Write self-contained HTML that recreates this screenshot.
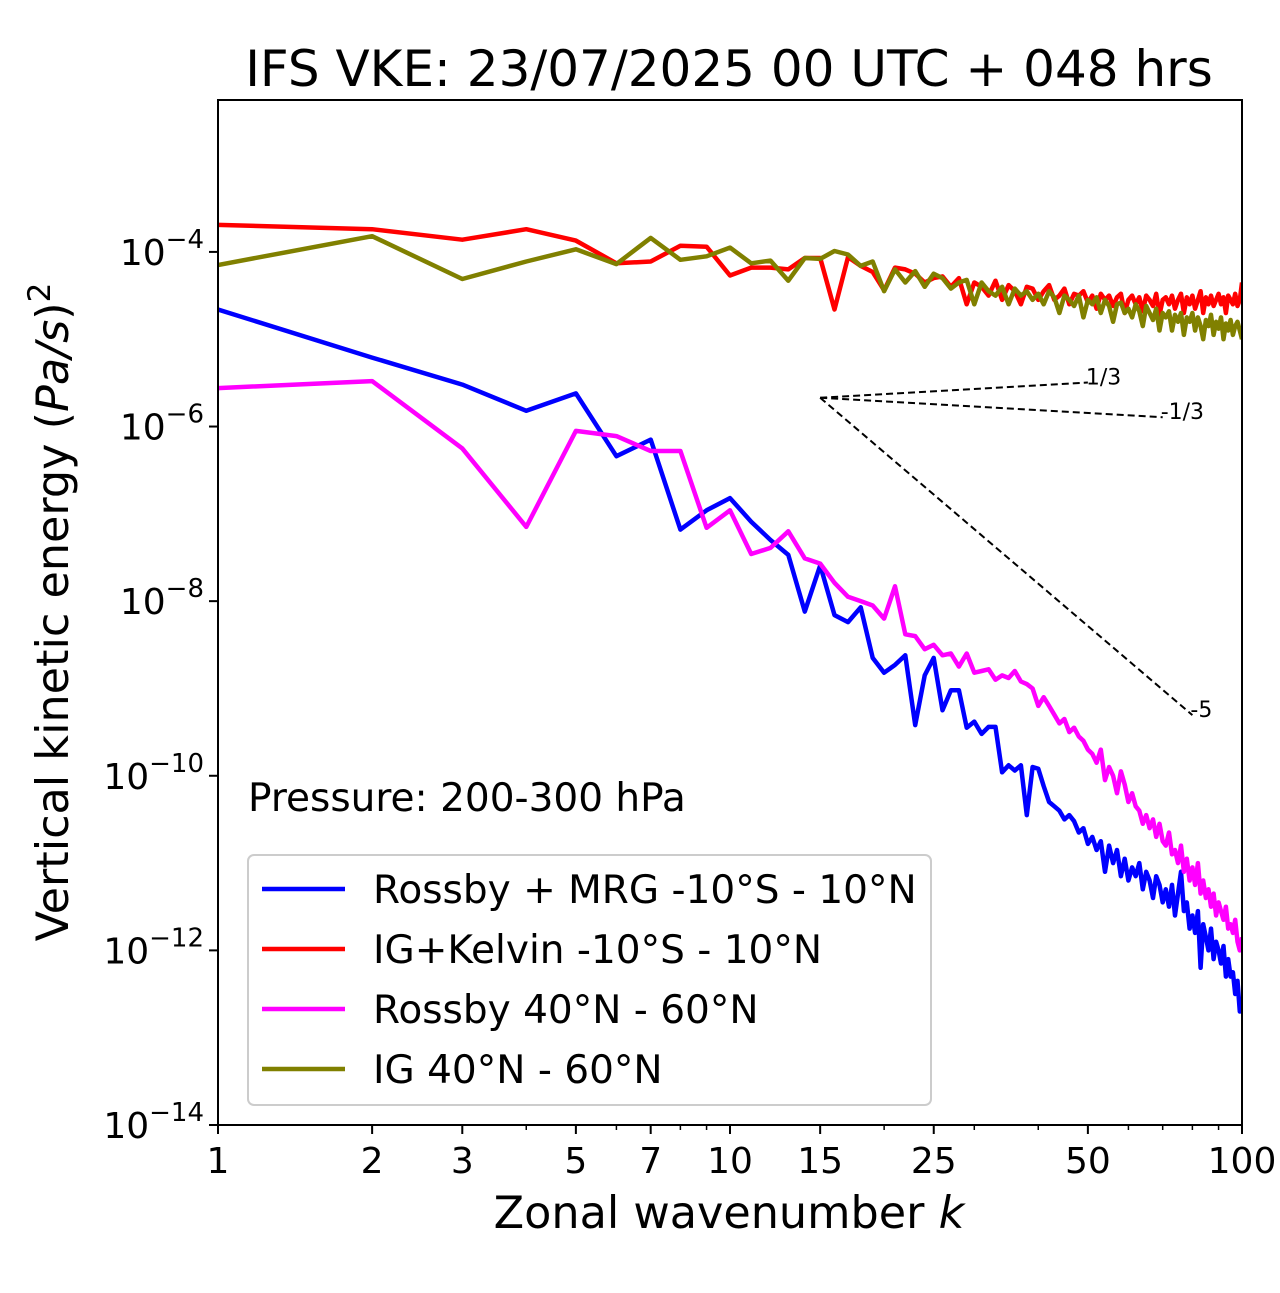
<!DOCTYPE html>
<html><head><meta charset="utf-8"><style>
html,body{margin:0;padding:0;background:#fff;}
svg text{font-family:"DejaVu Sans","Liberation Sans",sans-serif;fill:#000;}
</style></head><body>
<svg id="chart" width="1280" height="1288" xmlns="http://www.w3.org/2000/svg">
<rect width="1280" height="1288" fill="#fff"/>
<text x="729" y="86" font-size="50" text-anchor="middle">IFS VKE: 23/07/2025 00 UTC + 048 hrs</text>
<g id="plot"></g>
<g id="axes"></g>
<text x="248" y="811" font-size="39">Pressure: 200-300 hPa</text>
<text x="729" y="1228" font-size="44.5" text-anchor="middle">Zonal wavenumber <tspan font-style="italic">k</tspan></text>
<text transform="translate(68,612) rotate(-90)" font-size="44.5" text-anchor="middle">Vertical kinetic energy (<tspan font-style="italic">Pa/s</tspan>)<tspan font-size="31" dy="-18">2</tspan></text>
<g id="legend"></g>
</svg>
<script>
// log10 of values, k = 1..100
const blueExp = [-4.66,-5.21,-5.52,-5.82,-5.62,-6.34,-6.15,-7.18,-6.96,-6.82,-7.09,-7.30,-7.47,-8.12,-7.59,-8.16,-8.24,-8.07,-8.65,-8.82,-8.73,-8.62,-9.42,-8.85,-8.65,-9.25,-9.02,-9.02,-9.45,-9.38,
-9.52,-9.44,-9.44,-9.96,-9.88,-9.94,-9.88,-10.45,-9.9,-9.92,-10.12,-10.3,-10.35,-10.4,-10.5,-10.45,-10.52,-10.65,-10.6,-10.78,
-10.7,-10.85,-10.75,-11.1,-10.8,-11.0,-10.85,-11.15,-10.95,-11.2,-11.05,-11.15,-11.0,-11.3,-11.1,-11.2,-11.4,-11.15,-11.25,-11.45,
-11.3,-11.5,-11.25,-11.6,-11.35,-11.1,-11.55,-11.45,-11.75,-11.6,-11.8,-11.55,-12.2,-11.7,-11.85,-12.0,-11.75,-12.1,-11.9,-12.0,
-12.15,-11.95,-12.3,-12.1,-12.3,-12.25,-12.5,-12.35,-12.7,-12.55];
const redExp = [-3.69,-3.74,-3.86,-3.74,-3.87,-4.13,-4.11,-3.93,-3.94,-4.27,-4.18,-4.18,-4.2,-4.07,-4.07,-4.66,-4.06,-4.16,-4.23,-4.44,-4.18,-4.2,-4.25,-4.35,-4.3,-4.28,-4.4,-4.3,-4.6,-4.35,
-4.4,-4.5,-4.33,-4.55,-4.38,-4.45,-4.6,-4.4,-4.42,-4.55,-4.45,-4.38,-4.55,-4.5,-4.42,-4.6,-4.48,-4.5,-4.45,-4.58,
-4.5,-4.65,-4.48,-4.55,-4.5,-4.62,-4.52,-4.48,-4.7,-4.55,-4.5,-4.6,-4.52,-4.68,-4.5,-4.55,-4.62,-4.48,-4.72,-4.55,
-4.52,-4.6,-4.5,-4.65,-4.55,-4.48,-4.7,-4.52,-4.6,-4.5,-4.65,-4.55,-4.45,-4.7,-4.52,-4.6,-4.5,-4.62,-4.55,-4.48,
-4.6,-4.52,-4.7,-4.5,-4.55,-4.6,-4.48,-4.62,-4.55,-4.35];
const magentaExp = [-5.56,-5.48,-6.25,-7.15,-6.05,-6.11,-6.28,-6.28,-7.16,-6.96,-7.46,-7.39,-7.2,-7.51,-7.57,-7.79,-7.95,-8.0,-8.05,-8.2,-7.83,-8.38,-8.4,-8.55,-8.5,-8.62,-8.6,-8.75,-8.6,-8.82,
-8.8,-8.78,-8.9,-8.85,-8.88,-8.8,-8.92,-8.95,-9.0,-9.2,-9.1,-9.2,-9.3,-9.4,-9.35,-9.5,-9.45,-9.55,-9.6,-9.7,
-9.75,-9.85,-9.7,-10.05,-9.9,-10.0,-10.2,-9.95,-10.1,-10.3,-10.2,-10.35,-10.4,-10.55,-10.45,-10.6,-10.5,-10.7,-10.55,-10.75,
-10.8,-10.65,-10.9,-10.85,-11.0,-10.8,-11.1,-10.95,-11.2,-11.05,-11.25,-11.0,-11.35,-11.2,-11.4,-11.3,-11.5,-11.35,-11.6,-11.45,
-11.55,-11.65,-11.5,-11.75,-11.7,-11.8,-11.65,-11.9,-12.0,-11.85];
const oliveExp = [-4.15,-3.82,-4.31,-4.11,-3.97,-4.14,-3.84,-4.09,-4.05,-3.95,-4.13,-4.1,-4.33,-4.07,-4.08,-3.99,-4.03,-4.16,-4.11,-4.45,-4.2,-4.35,-4.22,-4.4,-4.25,-4.3,-4.42,-4.35,-4.32,-4.6,
-4.35,-4.45,-4.5,-4.4,-4.6,-4.42,-4.5,-4.45,-4.55,-4.48,-4.6,-4.45,-4.52,-4.7,-4.5,-4.55,-4.62,-4.5,-4.75,-4.55,
-4.6,-4.52,-4.7,-4.55,-4.62,-4.8,-4.6,-4.58,-4.7,-4.65,-4.75,-4.6,-4.68,-4.85,-4.62,-4.7,-4.78,-4.65,-4.9,-4.7,
-4.75,-4.68,-4.9,-4.72,-4.8,-4.7,-4.95,-4.75,-4.8,-4.7,-4.9,-4.75,-4.85,-5.0,-4.78,-4.85,-4.72,-4.95,-4.8,-4.88,
-4.75,-5.0,-4.82,-4.9,-4.78,-4.95,-4.85,-4.8,-4.9,-5.0];
const seriesLabels = ["Rossby + MRG -10°S - 10°N","IG+Kelvin -10°S - 10°N","Rossby 40°N - 60°N","IG 40°N - 60°N"];
const seriesColors = ["#0000ff","#ff0000","#ff00ff","#808000"];
const xTickLabels = [1,2,3,5,7,10,15,25,50,100];
const yTickExps = [-14,-12,-10,-8,-6,-4];
const refSlopes = ["1/3","-1/3","-5"];
const refSlopeVals = [1/3,-1/3,-5];
const refEndK = [50,70,80];
const refStartK = 15, refStartExp = -5.67;

const L=218,R=1242,T=100,B=1125;
const xMinLog=0,xMaxLog=2,yMinExp=-14,yMaxExp=-2.26;
const sx=k=>L+(Math.log10(k)-xMinLog)/(xMaxLog-xMinLog)*(R-L);
const sy=e=>B-(e-yMinExp)/(yMaxExp-yMinExp)*(B-T);
const NS="http://www.w3.org/2000/svg";
const mk=(t,a,p)=>{const el=document.createElementNS(NS,t);for(const k in a)el.setAttribute(k,a[k]);p.appendChild(el);return el;};
const plot=document.getElementById('plot'),axes=document.getElementById('axes'),leg=document.getElementById('legend');

const cp=mk('clipPath',{id:'clip'},plot);
mk('rect',{x:L,y:T,width:R-L,height:B-T},cp);

const allExp=[blueExp,redExp,magentaExp,oliveExp];
const seriesNames=['rossby-mrg-line','ig-kelvin-line','rossby-midlat-line','ig-midlat-line'];
allExp.forEach((arr,i)=>{
  const pts=arr.map((e,j)=>sx(j+1).toFixed(1)+','+sy(e).toFixed(1)).join(' ');
  const pl=mk('polyline',{points:pts,fill:'none',stroke:seriesColors[i],'stroke-width':4.5,'stroke-linejoin':'round','clip-path':'url(#clip)'},plot);
  
  
});
refSlopeVals.forEach((s,i)=>{
  const e2=refStartExp+s*(Math.log10(refEndK[i])-Math.log10(refStartK));
  const ln=mk('line',{x1:sx(refStartK),y1:sy(refStartExp),x2:sx(refEndK[i]),y2:sy(e2),stroke:'#000','stroke-width':2,'stroke-dasharray':'7,4'},plot);
  
  
  const tx=mk('text',{x:sx(refEndK[i])-2,y:sy(e2)+2,'font-size':22},plot);
  tx.textContent=refSlopes[i];
  
  
});
const fr=mk('rect',{x:L,y:T,width:R-L,height:B-T,fill:'none',stroke:'#000','stroke-width':2},axes);


for(let d=1;d<=100;d*=10){for(let m=2;m<=9;m++){const k=d*m;if(k>=100)break;mk('line',{x1:sx(k),y1:B,x2:sx(k),y2:B+5,stroke:'#000','stroke-width':1.5},axes);}}
xTickLabels.forEach(k=>{
  mk('line',{x1:sx(k),y1:B,x2:sx(k),y2:B+9,stroke:'#000','stroke-width':2},axes);
  const t=mk('text',{x:sx(k),y:B+48,'font-size':36,'text-anchor':'middle'},axes);
  t.textContent=k;
  
  
});
yTickExps.forEach(e=>{
  const y=sy(e);
  mk('line',{x1:L-9,y1:y,x2:L,y2:y,stroke:'#000','stroke-width':2},axes);
  const t=mk('text',{x:L-14,y:y+13,'font-size':36,'text-anchor':'end'},axes);
  t.innerHTML='10<tspan font-size="26" dy="-17">\u2212'+Math.abs(e)+'</tspan>';
  
  
});
const box=mk('rect',{x:248,y:855,width:683,height:250,rx:6,fill:'#fff',stroke:'#ccc','stroke-width':2},leg);


seriesLabels.forEach((lab,i)=>{
  const y=889+i*60;
  const l=mk('line',{x1:262,y1:y,x2:345,y2:y,stroke:seriesColors[i],'stroke-width':4.5},leg);
  
  
  const t=mk('text',{x:373,y:y+14,'font-size':39},leg);
  t.textContent=lab;
  
  
});
</script>
</body></html>
